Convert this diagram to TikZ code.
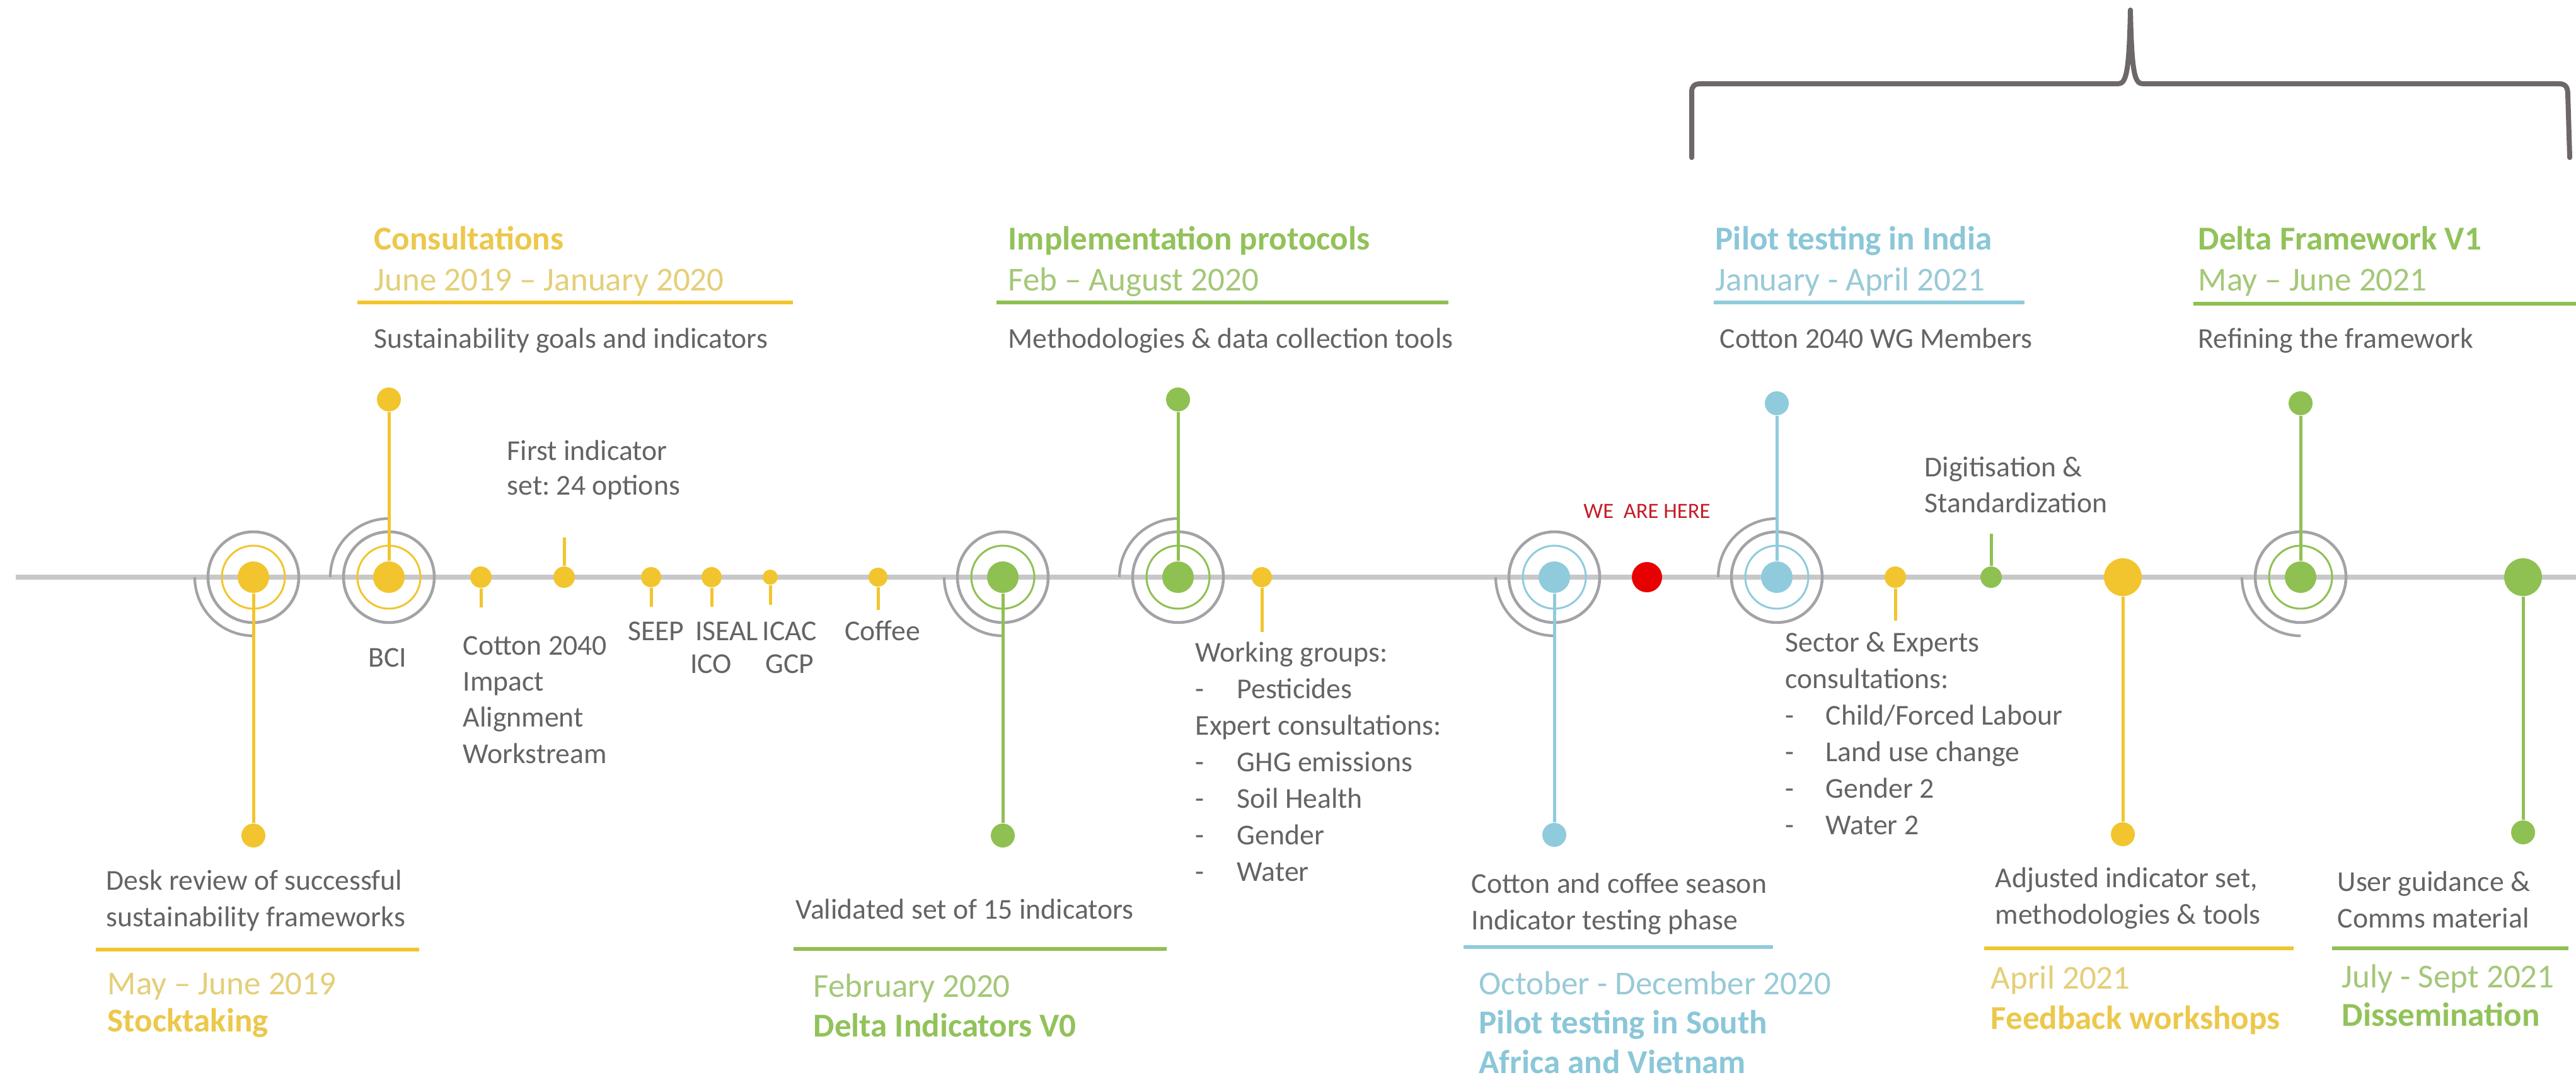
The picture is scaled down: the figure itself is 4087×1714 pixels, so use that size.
\documentclass[tikz,border=0pt]{standalone}
\usepackage{fontspec}
\setmainfont{Carlito}
\frenchspacing
\pgfdeclarelayer{bg}
\pgfdeclarelayer{mid}
\pgfsetlayers{bg,mid,main}
\definecolor{cY}{RGB}{242,197,46}
\definecolor{cYt}{RGB}{236,200,75}
\definecolor{cYd}{RGB}{228,207,120}
\definecolor{cG}{RGB}{143,192,82}
\definecolor{cGt}{RGB}{146,194,90}
\definecolor{cGd}{RGB}{165,199,120}
\definecolor{cB}{RGB}{143,203,220}
\definecolor{cBt}{RGB}{138,199,216}
\definecolor{cBd}{RGB}{152,202,215}
\definecolor{txt}{RGB}{100,100,100}
\definecolor{ringc}{RGB}{162,162,167}
\definecolor{tlc}{RGB}{200,200,200}
\definecolor{brc}{RGB}{110,103,103}
\definecolor{wah}{RGB}{196,30,40}
\definecolor{reddot}{RGB}{232,0,0}
\newcommand{\tgtrings}[4]{%
  \draw[ringo] (#1,-916) ++(#3:93) arc[start angle=#3, end angle=#4, radius=93];
  \draw[ringg] (#1,-916) circle[radius=72];
  \draw[#2, line width=0.3mm] (#1,-916) circle[radius=50];
}
\begin{document}
\begin{tikzpicture}[x=0.1mm,y=0.1mm,
  tline/.style={draw=tlc, line width=0.8mm},
  ringo/.style={draw=ringc, line width=0.42mm},
  ringg/.style={draw=ringc, line width=0.45mm},
  stem/.style={line width=0.5mm},
  uline/.style={line width=0.6mm},
  pdot/.style={circle, inner sep=0pt, minimum size=#1},
  pdot/.default=3.8mm,
  bod/.style={font=\fontsize{13pt}{16.5pt}\selectfont, text=txt, inner sep=0pt, anchor=base west},
  bodc/.style={bod, anchor=base},
  ttl/.style={font=\fontsize{15.1pt}{18pt}\selectfont\bfseries, text=#1, inner sep=0pt, anchor=base west},
  dte/.style={font=\fontsize{15.1pt}{18pt}\selectfont, text=#1, inner sep=0pt, anchor=base west},
  brace/.style={draw=brc, line width=0.8mm, line join=round, line cap=round}
]
\useasboundingbox (0,0) rectangle (4087,-1714);

% ---------- timeline and rings ----------
\begin{pgfonlayer}{bg}
\fill[white] (0,0) rectangle (4087,-1714);
\coordinate (tlA) at (25,-916);
\coordinate (tlB) at (4087,-916);
\draw[tline] (tlA) -- (tlB);
\tgtrings{402}{cY}{180}{270}
\tgtrings{617}{cY}{90}{180}
\tgtrings{1591}{cG}{180}{270}
\tgtrings{1869}{cG}{90}{180}
\tgtrings{2466}{cB}{180}{270}
\tgtrings{2819}{cB}{90}{180}
\tgtrings{3650}{cG}{180}{270}
\end{pgfonlayer}

% ---------- dots ----------
\node[pdot=5mm, fill=cY] (stC) at (402,-916) {};
\node[pdot=5mm, fill=cY] (bciC) at (617,-916) {};
\node[pdot=5mm, fill=cG] (v0C) at (1591,-916) {};
\node[pdot=5mm, fill=cG] (impC) at (1869,-916) {};
\node[pdot=5mm, fill=cB] (saC) at (2466,-916) {};
\node[pdot=5mm, fill=cB] (inC) at (2819,-916) {};
\node[pdot=5mm, fill=cG] (v1C) at (3650,-916) {};

\node[pdot, fill=cY] (stE) at (402,-1326) {};
\node[pdot, fill=cY] (bciE) at (617,-634) {};
\node[pdot, fill=cG] (v0E) at (1591,-1326) {};
\node[pdot, fill=cG] (impE) at (1869,-634) {};
\node[pdot, fill=cB] (saE) at (2466,-1325) {};
\node[pdot, fill=cB] (inE) at (2819,-640) {};
\node[pdot, fill=cG] (v1E) at (3650,-640) {};
\node[pdot, fill=cY] (fbE) at (3368,-1324) {};
\node[pdot, fill=cG] (dsE) at (4003,-1321) {};

\node[pdot=3.4mm, fill=cY] (c40) at (763,-916) {};
\node[pdot=3.4mm, fill=cY] (fi) at (895,-916) {};
\node[pdot=3.2mm, fill=cY] (seep) at (1033,-916) {};
\node[pdot=3.2mm, fill=cY] (iseal) at (1129,-916) {};
\node[pdot=2.4mm, fill=cY] (icac) at (1222,-916) {};
\node[pdot=3.0mm, fill=cY] (cof) at (1393,-916) {};
\node[pdot=3.2mm, fill=cY] (wg) at (2002,-916) {};
\node[pdot=3.4mm, fill=cY] (sec) at (3007,-916) {};
\node[pdot=3.4mm, fill=cG] (dig) at (3159,-916) {};
\node[pdot=6mm, fill=cY] (fb) at (3368,-916) {};
\node[pdot=6mm, fill=cG] (ds) at (4003,-916) {};
\node[pdot=4.8mm, fill=reddot] (here) at (2613,-916) {};

% ---------- stems ----------
\coordinate (c40s) at (763,-964);
\coordinate (fis) at (895,-853);
\coordinate (seeps) at (1033,-963);
\coordinate (iseals) at (1129,-963);
\coordinate (icacs) at (1222,-960);
\coordinate (cofs) at (1393,-968);
\coordinate (wgs) at (2002,-1003);
\coordinate (secs) at (3007,-985);
\coordinate (digs) at (3159,-847);
\begin{pgfonlayer}{mid}
\draw[stem, cY] (stC) -- (stE);
\draw[stem, cY] (bciC) -- (bciE);
\draw[stem, cG] (v0C) -- (v0E);
\draw[stem, cG] (impC) -- (impE);
\draw[stem, cB] (saC) -- (saE);
\draw[stem, cB] (inC) -- (inE);
\draw[stem, cG] (v1C) -- (v1E);
\draw[stem, cY] (fb) -- (fbE);
\draw[stem, cG] (ds) -- (dsE);
\draw[stem, cY] (c40) -- (c40s);
\draw[stem, cY] (fi) -- (fis);
\draw[stem, cY] (seep) -- (seeps);
\draw[stem, cY] (iseal) -- (iseals);
\draw[stem, cY] (icac) -- (icacs);
\draw[stem, cY] (cof) -- (cofs);
\draw[stem, cY] (wg) -- (wgs);
\draw[stem, cY] (sec) -- (secs);
\draw[stem, cG] (dig) -- (digs);
\end{pgfonlayer}

% ---------- brace ----------
\draw[brace] (2684,-250) -- (2684,-146) .. controls (2684,-137) and (2688,-133) .. (2698,-133)
  -- (3360,-133) .. controls (3373,-133) and (3378,-118) .. (3380,-16)
  .. controls (3382,-118) and (3387,-133) .. (3400,-133)
  -- (4060,-133) .. controls (4070,-133) and (4074,-138) .. (4074,-150)
  -- (4077,-250);

% ---------- top blocks ----------
\node[ttl=cYt] (conT) at (593,-397) {Consultations};
\node[dte=cYd] (conD) at (593,-462) {June 2019 – January 2020};
\draw[uline, cY] (567,-480) -- (1258,-480);
\node[bod] (conS) at (593,-553) {Sustainability goals and indicators};

\node[ttl=cGt] (impT) at (1599,-397) {Implementation protocols};
\node[dte=cGd] (impD) at (1599,-462) {Feb – August 2020};
\draw[uline, cG] (1581,-480) -- (2298,-480);
\node[bod] (impS) at (1599,-553) {Methodologies \& data collection tools};

\node[ttl=cBt] (inT) at (2721,-397) {Pilot testing in India};
\node[dte=cBd] (inD) at (2721,-462) {January - April 2021};
\draw[uline, cB] (2719,-480) -- (3212,-480);
\node[bod] (inS) at (2728,-553) {Cotton 2040 WG Members};

\node[ttl=cGt] (v1T) at (3487,-397) {Delta Framework V1};
\node[dte=cGd] (v1D) at (3487,-462) {May – June 2021};
\draw[uline, cG] (3480,-482) -- (4087,-482);
\node[bod] (v1S) at (3487,-553) {Refining the framework};

% ---------- bottom blocks ----------
\node[bod] (stS1) at (168,-1412) {Desk review of successful};
\node[bod] (stS2) at (168,-1470) {sustainability frameworks};
\draw[uline, cY] (152,-1507) -- (665,-1507);
\node[dte=cYd] (stD) at (170,-1578) {May – June 2019};
\node[ttl=cYt] (stT) at (170,-1637) {Stocktaking};

\node[bod] (v0S) at (1262,-1458) {Validated set of 15 indicators};
\draw[uline, cG] (1259,-1506) -- (1851,-1506);
\node[dte=cGd] (v0D) at (1290,-1582) {February 2020};
\node[ttl=cGt] (v0T) at (1290,-1645) {Delta Indicators V0};

\node[bod] (saS1) at (2334,-1417) {Cotton and coffee season};
\node[bod] (saS2) at (2334,-1475) {Indicator testing phase};
\draw[uline, cB] (2322,-1503) -- (2813,-1503);
\node[dte=cBd] (saD) at (2346,-1578) {October - December 2020};
\node[ttl=cBt] (saT1) at (2346,-1640) {Pilot testing in South};
\node[ttl=cBt] (saT2) at (2346,-1703) {Africa and Vietnam};

\node[bod] (fbS1) at (3165,-1408) {Adjusted indicator set,};
\node[bod] (fbS2) at (3165,-1466) {methodologies \& tools};
\draw[uline, cY] (3148,-1505) -- (3639,-1505);
\node[dte=cYd] (fbD) at (3158,-1569) {April 2021};
\node[ttl=cYt] (fbT) at (3158,-1633) {Feedback workshops};

\node[bod] (dsS1) at (3708,-1414) {User guidance \&};
\node[bod] (dsS2) at (3708,-1472) {Comms material};
\draw[uline, cG] (3700,-1505) -- (4075,-1505);
\node[dte=cGd] (dsD) at (3715,-1567) {July - Sept 2021};
\node[ttl=cGt] (dsT) at (3715,-1628) {Dissemination};

% ---------- middle labels ----------
\node[bodc] (bciL) at (615,-1058) {BCI};
\node[bod] (c40L1) at (734,-1039) {Cotton 2040};
\node[bod] (c40L2) at (734,-1096) {Impact};
\node[bod] (c40L3) at (734,-1153) {Alignment};
\node[bod] (c40L4) at (734,-1211) {Workstream};
\node[bod] (fiL1) at (804,-731) {First indicator};
\node[bod] (fiL2) at (804,-786) {set: 24 options};
\node[bodc] (seepL) at (1041,-1017) {SEEP};
\node[bodc] (isealL) at (1153,-1017) {ISEAL};
\node[bodc] (icacL) at (1253,-1017) {ICAC};
\node[bodc] (icoL) at (1128,-1068) {ICO};
\node[bodc] (gcpL) at (1253,-1068) {GCP};
\node[bodc] (cofL) at (1400,-1017) {Coffee};

\node[bod] (wgL1) at (1896,-1050) {Working groups:};
\node[bod] (wgL2) at (1896,-1108) {\makebox[6.6mm][l]{-}Pesticides};
\node[bod] (wgL3) at (1896,-1166) {Expert consultations:};
\node[bod] (wgL4) at (1896,-1224) {\makebox[6.6mm][l]{-}GHG emissions};
\node[bod] (wgL5) at (1896,-1282) {\makebox[6.6mm][l]{-}Soil Health};
\node[bod] (wgL6) at (1896,-1340) {\makebox[6.6mm][l]{-}Gender};
\node[bod] (wgL7) at (1896,-1398) {\makebox[6.6mm][l]{-}Water};

\node[bod] (secL1) at (2832,-1034) {Sector \& Experts};
\node[bod] (secL2) at (2832,-1092) {consultations:};
\node[bod] (secL3) at (2832,-1150) {\makebox[6.4mm][l]{-}Child/Forced Labour};
\node[bod] (secL4) at (2832,-1208) {\makebox[6.4mm][l]{-}Land use change};
\node[bod] (secL5) at (2832,-1266) {\makebox[6.4mm][l]{-}Gender 2};
\node[bod] (secL6) at (2832,-1324) {\makebox[6.4mm][l]{-}Water 2};

\node[bod] (digL1) at (3053,-757) {Digitisation \&};
\node[bod] (digL2) at (3053,-814) {Standardization};

\node[font=\fontsize{9.85pt}{12pt}\selectfont, text=wah, inner sep=0pt, anchor=base] (wahL) at (2613,-823) {WE\ \ ARE HERE};
\end{tikzpicture}
\end{document}
